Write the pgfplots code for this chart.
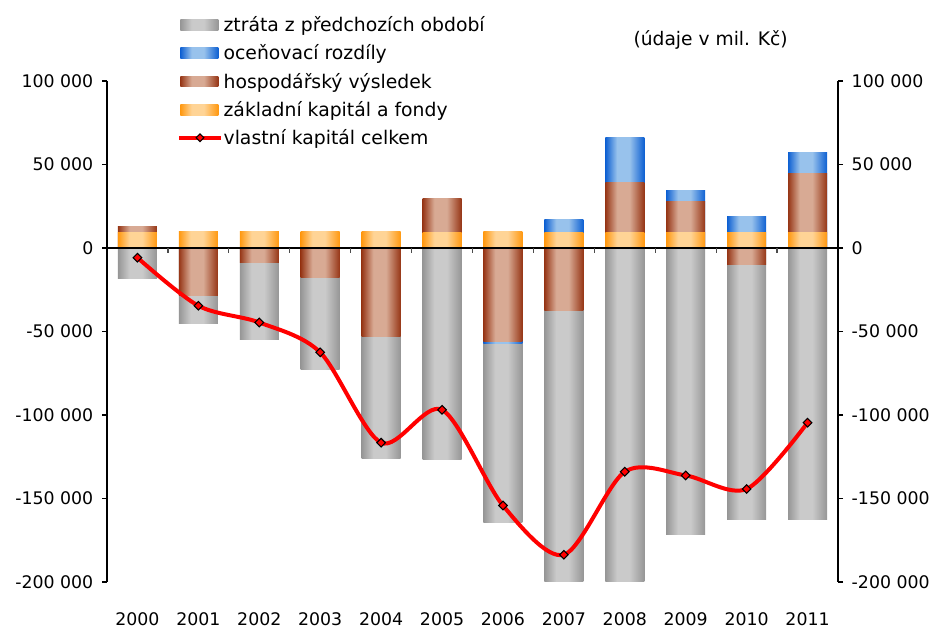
\documentclass[border=0pt]{standalone}
\usepackage{fontspec}
\setmainfont{DejaVu Sans}
\usepackage{pgfplots}
\pgfplotsset{compat=1.18}
\usepackage{pgfplotstable}

\definecolor{gE}{RGB}{150,150,150}
\definecolor{gM}{RGB}{202,202,202}
\definecolor{bE}{RGB}{14,96,210}
\definecolor{bM}{RGB}{152,194,236}
\definecolor{rE}{RGB}{150,54,22}
\definecolor{rM}{RGB}{216,170,148}
\definecolor{oE}{RGB}{255,152,16}
\definecolor{oM}{RGB}{255,212,150}

% TikZ maps the path's bounding box onto 25bp..75bp of the shading
\pgfdeclarehorizontalshading{gshade}{100bp}{color(0bp)=(gE); color(25bp)=(gE); color(40bp)=(gM); color(56bp)=(gM); color(75bp)=(gE); color(100bp)=(gE)}
\pgfdeclarehorizontalshading{bshade}{100bp}{color(0bp)=(bE); color(25bp)=(bE); color(40bp)=(bM); color(56bp)=(bM); color(75bp)=(bE); color(100bp)=(bE)}
\pgfdeclarehorizontalshading{rshade}{100bp}{color(0bp)=(rE); color(25bp)=(rE); color(40bp)=(rM); color(56bp)=(rM); color(75bp)=(rE); color(100bp)=(rE)}
\pgfdeclarehorizontalshading{oshade}{100bp}{color(0bp)=(oE); color(25bp)=(oE); color(40bp)=(oM); color(56bp)=(oM); color(75bp)=(oE); color(100bp)=(oE)}

% boundary levels of the stacked segments (mil. Kc); nan = segment absent
\pgfplotstableread{
x bluetop browntop orangetop brownbot bluebot greybot
0 nan 12700 9500 nan nan -18200
1 nan nan 10000 -28500 nan -45300
2 nan nan 10000 -8800 nan -54900
3 nan nan 10000 -17800 nan -72700
4 nan nan 10000 -52900 nan -126000
5 nan 29500 9500 nan nan -126600
6 nan nan 10000 -56000 -56900 -164300
7 17000 nan 9500 -37500 nan -200500
8 66100 39300 9500 nan nan -200500
9 34300 27700 9500 nan nan -171600
10 18700 nan 9500 -10000 nan -162600
11 57000 44500 9500 nan nan -162600
}\bartab

\pgfplotstableread{
x total
0 -5800
1 -34600
2 -44600
3 -62500
4 -116600
5 -96900
6 -154200
7 -183700
8 -134000
9 -136200
10 -144300
11 -104600
}\totaltab

\newcommand{\tfont}{\fontsize{13}{15}\selectfont}
\newcommand{\lfont}{\fontsize{14.1}{17}\selectfont}

\pgfplotsset{
  cylbar/.style n args={2}{ybar, bar width=0.64, bar shift=0pt, draw=none,
     shade, shading=#1, forget plot, unbounded coords=discard,
     restrict x to domain=#2:#2},
  baseax/.style={at={(80.25pt,36pt)}, anchor=south west,
     width=548.25pt, height=375.75pt, scale only axis,
     xmin=-0.5, xmax=11.5, ymin=-200000, ymax=100000,
     scaled y ticks=false,
     ytick={-200000,-150000,-100000,-50000,0,50000,100000},
     yticklabels={-200 000,-150 000,-100 000,-50 000,0,50 000,100 000},
     tick align=outside, major tick length=3.75pt,
     ticklabel style={font=\tfont, text=black},
     axis line style={line width=0.9pt, black},
     ytick style={line width=0.9pt, black}},
  barleg/.style={legend image code/.code={%
     \path[draw=none] (0pt,0pt) -- (32.5pt,0pt);
     \shade[draw=none, shading=#1] (0pt,-4.1pt) rectangle (28.5pt,4.1pt);}}
}

\begin{document}
\begin{tikzpicture}[x=1pt,y=1pt]
\useasboundingbox (0,0) rectangle (702,472.5);
\begin{axis}[baseax,
  axis y line*=left, axis x line*=bottom,
  x axis line style={draw=none},
  xtick={0,1,2,3,4,5,6,7,8,9,10,11},
  xticklabels={2000,2001,2002,2003,2004,2005,2006,2007,2008,2009,2010,2011},
  xtick style={draw=none},
  xticklabel style={anchor=center, yshift=-24.5pt},
  yticklabel style={xshift=-3pt},
  legend style={draw=none, fill=none, at={(axis description cs:0.0958,1.134)},
     anchor=north west, inner sep=0pt, row sep=4.3pt, font=\lfont,
     nodes={inner xsep=0pt},
     cells={anchor=west}},
]
\pgfplotsinvokeforeach{0,1,2,3,4,5,6,7,8,9,10,11}{
  % positive part of the stack
  \addplot[cylbar={bshade}{#1}] table[x=x,y=bluetop]{\bartab};
  \addplot[cylbar={rshade}{#1}] table[x=x,y=browntop]{\bartab};
  \addplot[cylbar={oshade}{#1}] table[x=x,y=orangetop]{\bartab};
  % negative part of the stack
  \addplot[cylbar={gshade}{#1}] table[x=x,y=greybot]{\bartab};
  \addplot[cylbar={bshade}{#1}] table[x=x,y=bluebot]{\bartab};
  \addplot[cylbar={rshade}{#1}] table[x=x,y=brownbot]{\bartab};
}

\draw[black, line width=0.9pt] (axis cs:-0.5,0) -- (axis cs:11.5,0);
\pgfplotsinvokeforeach{0.5,1.5,2.5,3.5,4.5,5.5,6.5,7.5,8.5,9.5,10.5}{
  \draw[black!70, line width=0.9pt] (axis cs:#1,0) -- ++(0pt,-3.75pt);
}

\addplot[red, line width=3pt, smooth, tension=0.5, mark=square*, mark size=2.3pt,
  mark options={rotate=45, fill=red, draw=black, line width=0.8pt, solid}, forget plot]
  table[x=x,y=total]{\totaltab};

\addlegendimage{barleg=gshade}
\addlegendentry{ztráta z předchozích období}
\addlegendimage{barleg=bshade}
\addlegendentry{oceňovací rozdíly}
\addlegendimage{barleg=rshade}
\addlegendentry{hospodářský výsledek}
\addlegendimage{barleg=oshade}
\addlegendentry{základní kapitál a fondy}
\addlegendimage{legend image code/.code={%
   \path[draw=none] (0pt,0pt) -- (32.5pt,0pt);
   \draw[red, line width=3pt] (-0.75pt,0pt) -- (30.25pt,0pt);
   \draw[fill=red, draw=black, line width=0.8pt] (14.75pt,2.9pt) -- (17.65pt,0pt) -- (14.75pt,-2.9pt) -- (11.85pt,0pt) -- cycle;}}
\addlegendentry{vlastní kapitál celkem}
\end{axis}
\begin{axis}[baseax,
  axis y line*=right, axis x line=none,
  yticklabel style={xshift=3pt},
]
\end{axis}
\node[font=\fontsize{14}{16}\selectfont, text=black] at (533,442.5) {(údaje v mil. Kč)};
\end{tikzpicture}
\end{document}
